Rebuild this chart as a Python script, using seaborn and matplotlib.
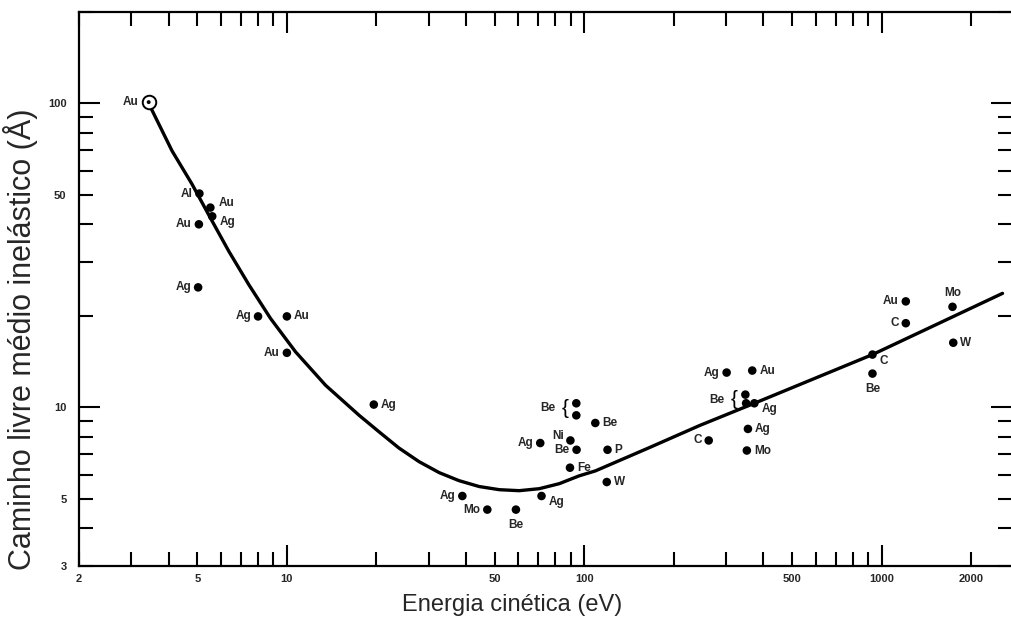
import matplotlib
matplotlib.use("Agg")
import matplotlib.pyplot as plt
import matplotlib.ticker as mticker
import seaborn as sns
import pandas as pd

# ---------------- data ----------------
ref_energy = [3.43]
ref_mfp = [101]
ref_label = ["Au"]

point_energy = [5.08, 5.53, 5.61, 5.06, 5.03, 8.0, 10.0, 10.0, 19.6,
                38.9, 47.2, 58.9, 71.8, 71.1, 89.8, 94.2, 89.5, 94.0, 94.0,
                108.9, 119.7, 119.0,
                301, 367, 348, 350, 373, 355, 352, 262,
                931, 931, 1205, 1205, 1730, 1740]
point_mfp = [50.5, 45.4, 42.5, 40.0, 24.8, 19.9, 19.9, 15.1, 10.2,
             5.1, 4.6, 4.6, 5.1, 7.62, 7.77, 7.24, 6.32, 10.3, 9.4,
             8.87, 7.24, 5.67,
             13.0, 13.2, 11.0, 10.3, 10.3, 8.48, 7.2, 7.77,
             14.9, 12.9, 22.3, 18.9, 21.4, 16.3]
point_label = ["Al", "Au", "Ag", "Au", "Ag", "Ag", "Au", "Au", "Ag",
               "Ag", "Mo", "Be", "Ag", "Ag", "Ni", "Be", "Fe", "Be", "",
               "Be", "P", "W",
               "Ag", "Au", "Be", "", "Ag", "Ag", "Mo", "C",
               "C", "Be", "Au", "C", "Mo", "W"]
label_side = ["L", "UR", "BR", "L", "L", "L", "R", "L", "R",
              "L", "L", "B", "BR", "L", "UL", "L", "R", "BRACE", "",
              "R", "R", "R",
              "L", "R", "BRACE", "", "BR", "R", "R", "L",
              "BR", "B", "L", "L", "A", "R"]

curve_energy = [3.43, 4.11, 4.80, 5.53, 6.38, 7.45, 8.81, 10.7, 13.5, 17.5,
                20.4, 23.8, 27.8, 32.5, 37.9, 44.3, 51.8, 60.4, 70.5, 82.4,
                96, 109, 166, 244, 373, 931, 2548]
curve_mfp = [100, 69.8, 54.2, 42.0, 32.6, 25.3, 19.6, 15.2, 11.8, 9.40,
             8.3, 7.34, 6.62, 6.09, 5.73, 5.48, 5.35, 5.31, 5.39, 5.60,
             5.94, 6.17, 7.37, 8.7, 10.3, 14.9, 23.7]

xtick_labels = [2, 5, 10, 50, 100, 500, 1000, 2000]
ytick_labels = [3, 5, 10, 50, 100]

x_title = "Energia cinética (eV)"
y_title = "Caminho livre médio inelástico (Å)"

# ---------------- figure ----------------
sns.set_style("white")
plt.rcParams["font.family"] = ["Liberation Sans", "DejaVu Sans"]

fig = plt.figure(figsize=(10.12, 6.21), dpi=100)
ax = fig.add_axes([79 / 1012, 55 / 621, 933 / 1012, 554 / 621])

pts = pd.DataFrame({"E": point_energy, "L": point_mfp})
cur = pd.DataFrame({"E": curve_energy, "L": curve_mfp})
ref = pd.DataFrame({"E": ref_energy, "L": ref_mfp})

sns.lineplot(data=cur, x="E", y="L", sort=False, estimator=None,
             color="black", linewidth=2.4, ax=ax, zorder=2)
sns.scatterplot(data=pts, x="E", y="L", color="black", s=38,
                edgecolor="none", ax=ax, zorder=3)
sns.scatterplot(data=ref, x="E", y="L", facecolor="white", edgecolor="black",
                s=95, linewidth=1.4, ax=ax, zorder=4)
sns.scatterplot(data=ref, x="E", y="L", color="black", s=8,
                edgecolor="none", ax=ax, zorder=5)

ax.set_xscale("log")
ax.set_yscale("log")
ax.set_xlim(2, 2742)
ax.set_ylim(3, 200)

offsets = {
    "L": ((-7, 0), "right", "center"),
    "R": ((7, 0), "left", "center"),
    "B": ((0, -9), "center", "top"),
    "A": ((0, 8), "center", "bottom"),
    "UR": ((8, 5), "left", "center"),
    "UL": ((-6, 4), "right", "center"),
    "BR": ((7, -6), "left", "center"),
}
for e, l, t, side in zip(point_energy, point_mfp, point_label, label_side):
    if not t:
        continue
    if side == "BRACE":
        ax.annotate("{", (e, l), xytext=(-8, -5), textcoords="offset pixels",
                    ha="right", va="center", fontsize=15, color="black")
        ax.annotate(t, (e, l), xytext=(-21, -5), textcoords="offset pixels",
                    ha="right", va="center", fontsize=8.5, fontweight="bold")
        continue
    off, ha, va = offsets[side]
    ax.annotate(t, (e, l), xytext=off, textcoords="offset pixels",
                ha=ha, va=va, fontsize=8.5, fontweight="bold")

for e, l, t in zip(ref_energy, ref_mfp, ref_label):
    ax.annotate(t, (e, l), xytext=(-10, 0), textcoords="offset pixels",
                ha="right", va="center", fontsize=8.5, fontweight="bold")

# ticks
ax.xaxis.set_major_locator(mticker.LogLocator(base=10, subs=(1.0,)))
ax.xaxis.set_minor_locator(mticker.LogLocator(base=10, subs=tuple(range(2, 10))))
ax.yaxis.set_major_locator(mticker.LogLocator(base=10, subs=(1.0,)))
ax.yaxis.set_minor_locator(mticker.LogLocator(base=10, subs=tuple(range(2, 10))))


def make_fmt(vals):
    def f(v, pos):
        for t in vals:
            if abs(v - t) / t < 1e-6:
                return str(t)
        return ""
    return mticker.FuncFormatter(f)


ax.xaxis.set_major_formatter(make_fmt(xtick_labels))
ax.xaxis.set_minor_formatter(make_fmt(xtick_labels))
ax.yaxis.set_major_formatter(make_fmt(ytick_labels))
ax.yaxis.set_minor_formatter(make_fmt(ytick_labels))

ax.tick_params(which="both", direction="in", top=True, right=True,
               bottom=True, left=True,
               width=1.5, color="black", labelsize=8)
ax.tick_params(axis="x", which="both", pad=6)
ax.tick_params(axis="y", which="both", pad=9)
ax.tick_params(which="major", length=15)
ax.tick_params(which="minor", length=10)
for lab in ax.get_xticklabels(which="both") + ax.get_yticklabels(which="both"):
    lab.set_fontweight("bold")

for s in ["left", "bottom", "top"]:
    ax.spines[s].set_linewidth(1.6)
    ax.spines[s].set_color("black")
ax.spines["right"].set_visible(False)

ax.set_xlabel(x_title, fontsize=17)
ax.set_ylabel(y_title, fontsize=22)
ax.xaxis.set_label_coords(0.464, -0.050)
ax.yaxis.set_label_coords(-0.044, 0.41)

fig.savefig("out.png", dpi=100)
